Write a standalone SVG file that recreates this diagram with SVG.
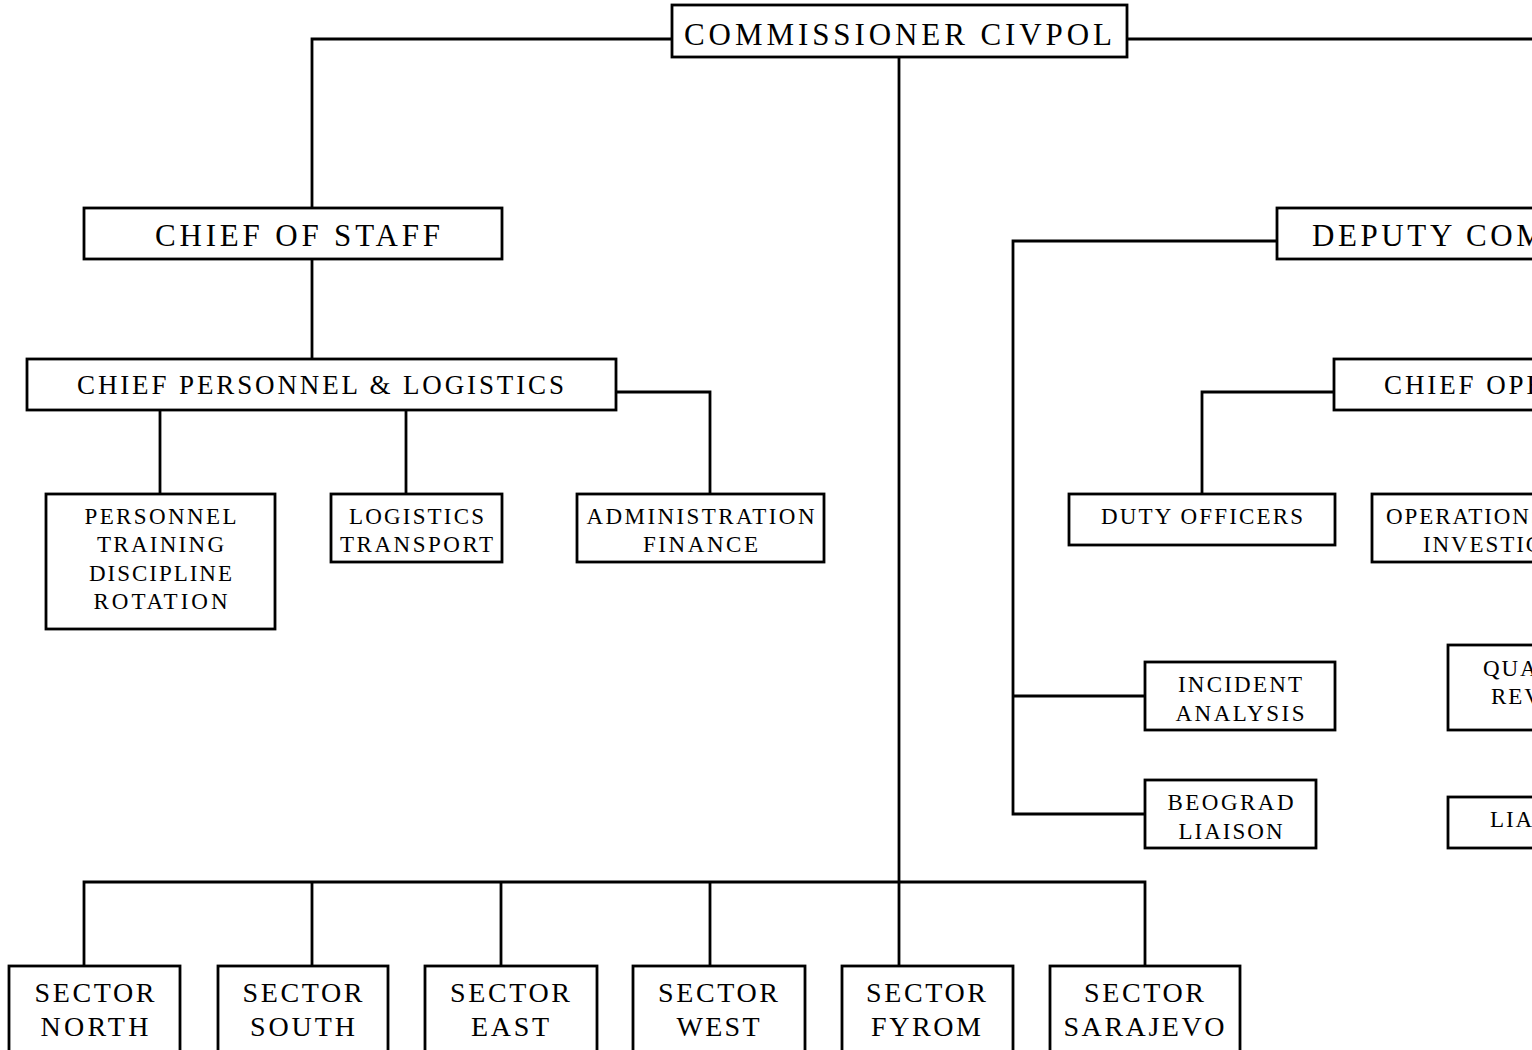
<svg xmlns="http://www.w3.org/2000/svg" width="1532" height="1050" viewBox="0 0 1532 1050">
<style>
.box{fill:#fff;stroke:#000;stroke-width:2.8}
.ln{fill:none;stroke:#000;stroke-width:2.8}
text{font-family:"Liberation Serif","Times New Roman",serif;fill:#000}
.t1{font-size:31px;text-anchor:middle}
.t1s{font-size:31px;letter-spacing:3.6px}
.t2{font-size:27px;text-anchor:middle}
.t2s{font-size:27px;letter-spacing:2.9px}
.t3{font-size:23px;text-anchor:middle}
.t3s{font-size:23px;letter-spacing:1.9px}
.t4{font-size:28px;text-anchor:middle}
</style>
<rect width="1532" height="1050" fill="#fff"/>
<g id="connectors">
<path class="ln" d="M672 39H312V208"/>
<path class="ln" d="M1127 39H1532"/>
<path class="ln" d="M899 57V882"/>
<path class="ln" d="M312 259V359"/>
<path class="ln" d="M616 392H710V494"/>
<path class="ln" d="M160 410V494"/>
<path class="ln" d="M406 410V494"/>
<path class="ln" d="M1277 241H1013V814H1145"/>
<path class="ln" d="M1013 696H1145"/>
<path class="ln" d="M1334 392H1202V494"/>
<path class="ln" d="M84 966V882H1145V966"/>
<path class="ln" d="M312 882V966M501 882V966M710 882V966M899 882V966"/>
</g>
<g id="commissioner"><rect class="box" x="672" y="5" width="455" height="52"/><text class="t1" x="898" y="45" textLength="428" lengthAdjust="spacing">COMMISSIONER CIVPOL</text></g>
<g id="chief-of-staff"><rect class="box" x="84" y="208" width="418" height="51"/><text class="t1" x="297.5" y="246" textLength="285" lengthAdjust="spacing">CHIEF OF STAFF</text></g>
<g id="deputy"><rect class="box" x="1277" y="208" width="400" height="51"/><text class="t1s" x="1312" y="246">DEPUTY COMMISSIONER</text></g>
<g id="chief-personnel"><rect class="box" x="27" y="359" width="589" height="51"/><text class="t2" x="320.5" y="394" textLength="487" lengthAdjust="spacing">CHIEF PERSONNEL &amp; LOGISTICS</text></g>
<g id="chief-ops"><rect class="box" x="1334" y="359" width="300" height="51"/><text class="t2s" x="1384" y="394">CHIEF OPERATIONS</text></g>
<g id="personnel"><rect class="box" x="46" y="494" width="229" height="135"/>
<text class="t3" x="160.5" y="524" textLength="152" lengthAdjust="spacing">PERSONNEL</text>
<text class="t3" x="160.5" y="552" textLength="127" lengthAdjust="spacing">TRAINING</text>
<text class="t3" x="160.5" y="581" textLength="143" lengthAdjust="spacing">DISCIPLINE</text>
<text class="t3" x="160.5" y="609" textLength="134" lengthAdjust="spacing">ROTATION</text></g>
<g id="logistics"><rect class="box" x="331" y="494" width="171" height="68"/>
<text class="t3" x="416.5" y="524" textLength="135" lengthAdjust="spacing">LOGISTICS</text>
<text class="t3" x="416.5" y="552" textLength="153" lengthAdjust="spacing">TRANSPORT</text></g>
<g id="administration"><rect class="box" x="577" y="494" width="247" height="68"/>
<text class="t3" x="700.5" y="524" textLength="228" lengthAdjust="spacing">ADMINISTRATION</text>
<text class="t3" x="700.5" y="552" textLength="115" lengthAdjust="spacing">FINANCE</text></g>
<g id="duty-officers"><rect class="box" x="1069" y="494" width="266" height="51"/>
<text class="t3" x="1202" y="524" textLength="202" lengthAdjust="spacing">DUTY OFFICERS</text></g>
<g id="operations"><rect class="box" x="1372" y="494" width="300" height="68"/>
<text class="t3s" x="1386" y="524">OPERATIONS</text>
<text class="t3s" x="1423" y="552">INVESTIGATIONS</text></g>
<g id="incident"><rect class="box" x="1145" y="662" width="190" height="68"/>
<text class="t3" x="1240" y="692" textLength="124" lengthAdjust="spacing">INCIDENT</text>
<text class="t3" x="1240" y="721" textLength="129" lengthAdjust="spacing">ANALYSIS</text></g>
<g id="beograd"><rect class="box" x="1145" y="780" width="171" height="68"/>
<text class="t3" x="1230.5" y="810" textLength="126" lengthAdjust="spacing">BEOGRAD</text>
<text class="t3" x="1230.5" y="839" textLength="104" lengthAdjust="spacing">LIAISON</text></g>
<g id="quality"><rect class="box" x="1448" y="645" width="200" height="85"/>
<text class="t3s" x="1483" y="676">QUALITY</text>
<text class="t3s" x="1491" y="704">REVIEW</text></g>
<g id="liaison"><rect class="box" x="1448" y="797" width="200" height="51"/>
<text class="t3s" x="1490" y="827">LIAISON</text></g>
<g id="sector-north"><rect class="box" x="9" y="966" width="171" height="90"/>
<text class="t4" x="94.5" y="1002" textLength="120" lengthAdjust="spacing">SECTOR</text>
<text class="t4" x="94.5" y="1036" textLength="108" lengthAdjust="spacing">NORTH</text></g>
<g id="sector-south"><rect class="box" x="218" y="966" width="170" height="90"/>
<text class="t4" x="302.5" y="1002" textLength="120" lengthAdjust="spacing">SECTOR</text>
<text class="t4" x="302.5" y="1036" textLength="105" lengthAdjust="spacing">SOUTH</text></g>
<g id="sector-east"><rect class="box" x="425" y="966" width="172" height="90"/>
<text class="t4" x="510" y="1002" textLength="120" lengthAdjust="spacing">SECTOR</text>
<text class="t4" x="510" y="1036" textLength="78" lengthAdjust="spacing">EAST</text></g>
<g id="sector-west"><rect class="box" x="633" y="966" width="172" height="90"/>
<text class="t4" x="718" y="1002" textLength="120" lengthAdjust="spacing">SECTOR</text>
<text class="t4" x="718" y="1036" textLength="83" lengthAdjust="spacing">WEST</text></g>
<g id="sector-fyrom"><rect class="box" x="842" y="966" width="171" height="90"/>
<text class="t4" x="926" y="1002" textLength="120" lengthAdjust="spacing">SECTOR</text>
<text class="t4" x="926" y="1036" textLength="110" lengthAdjust="spacing">FYROM</text></g>
<g id="sector-sarajevo"><rect class="box" x="1050" y="966" width="190" height="90"/>
<text class="t4" x="1144" y="1002" textLength="120" lengthAdjust="spacing">SECTOR</text>
<text class="t4" x="1144" y="1036" textLength="161" lengthAdjust="spacing">SARAJEVO</text></g>
</svg>
